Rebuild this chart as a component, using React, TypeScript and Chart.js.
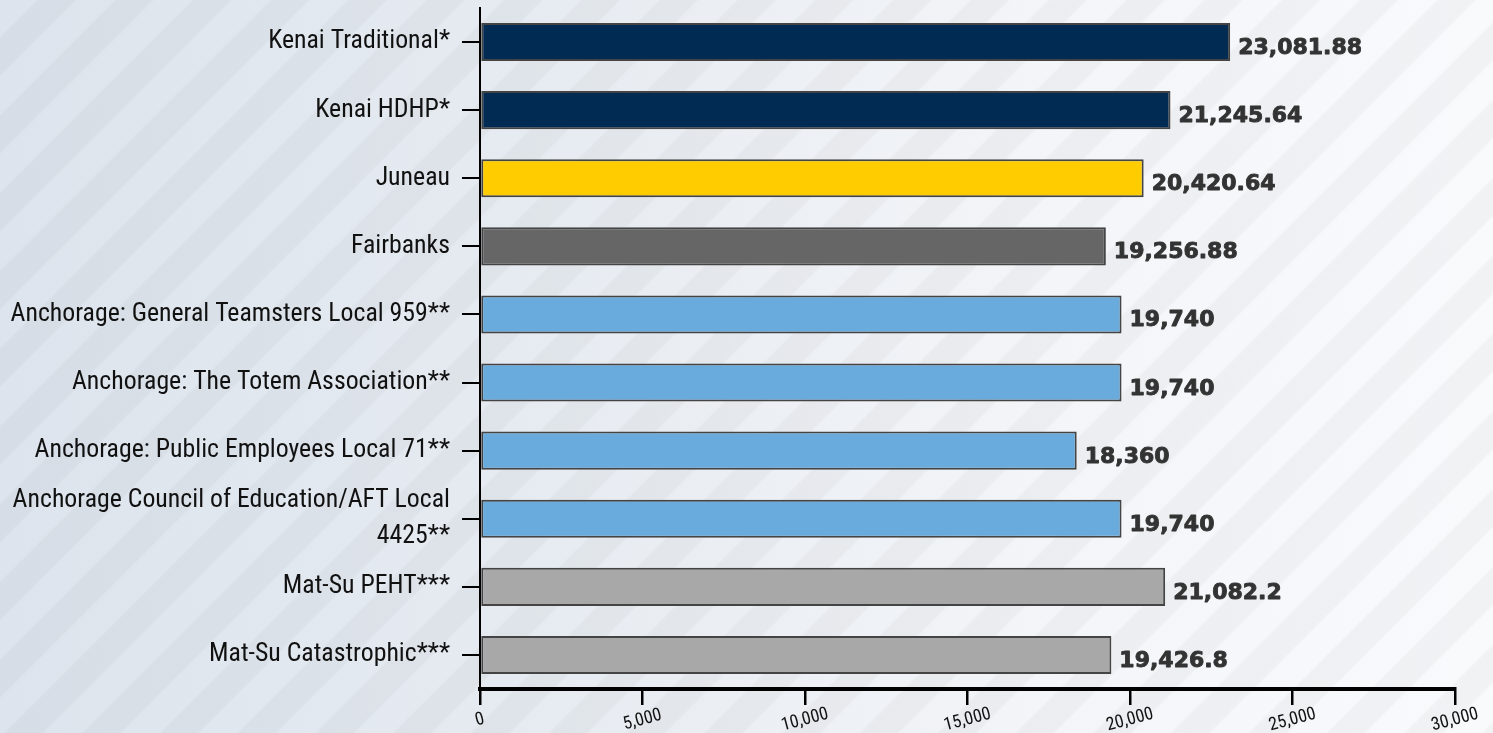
import React, { useEffect, useRef } from "react";
import { Chart, registerables } from "chart.js";

Chart.register(...registerables);

const categories: (string | string[])[] = [
  "Kenai Traditional*",
  "Kenai HDHP*",
  "Juneau",
  "Fairbanks",
  "Anchorage: General Teamsters Local 959**",
  "Anchorage: The Totem Association**",
  "Anchorage: Public Employees Local 71**",
  ["Anchorage Council of Education/AFT Local", "4425**"],
  "Mat-Su PEHT***",
  "Mat-Su Catastrophic***",
];

const values = [
  23081.88, 21245.64, 20420.64, 19256.88, 19740, 19740, 18360, 19740, 21082.2,
  19426.8,
];

const barColors = [
  "#012b53",
  "#012b53",
  "#ffcc00",
  "#666666",
  "#6aabdd",
  "#6aabdd",
  "#6aabdd",
  "#6aabdd",
  "#a8a8a8",
  "#a8a8a8",
];

const xMin = 0;
const xMax = 30000;
const xStep = 5000;

const LABEL_FONT =
  "'Roboto Condensed', 'Liberation Sans Narrow', 'DejaVu Sans Condensed', sans-serif";

const fmt = new Intl.NumberFormat("en-US", { maximumFractionDigits: 2 });

const valueLabelPlugin = {
  id: "valueLabels",
  afterDatasetsDraw(chart: any) {
    const ctx = chart.ctx;
    const meta = chart.getDatasetMeta(0);
    ctx.save();
    ctx.font = "bold 22px 'DejaVu Sans', sans-serif";
    ctx.fillStyle = "#333333";
    ctx.strokeStyle = "#333333";
    ctx.lineWidth = 0.9;
    ctx.lineJoin = "round";
    ctx.textAlign = "left";
    ctx.textBaseline = "alphabetic";
    meta.data.forEach((bar: any, i: number) => {
      const s = fmt.format(values[i]);
      ctx.fillText(s, bar.x + 8, bar.y + 12);
      ctx.strokeText(s, bar.x + 8, bar.y + 12);
    });
    ctx.restore();
  },
};

const xTickLabelPlugin = {
  id: "xTickLabels",
  afterDraw(chart: any) {
    const ctx = chart.ctx;
    const scale = chart.scales.x;
    ctx.save();
    ctx.font = `18px ${LABEL_FONT}`;
    ctx.fillStyle = "#111111";
    ctx.textAlign = "center";
    ctx.textBaseline = "middle";
    scale.ticks.forEach((t: any) => {
      const x = scale.getPixelForValue(t.value);
      ctx.save();
      ctx.translate(x, scale.bottom - 13);
      ctx.rotate((-15 * Math.PI) / 180);
      ctx.fillText(fmt.format(t.value), 0, 0);
      ctx.restore();
    });
    ctx.restore();
  },
};

export default function App() {
  const canvasRef = useRef<HTMLCanvasElement | null>(null);

  useEffect(() => {
    if (!canvasRef.current) return;
    const chart = new Chart(canvasRef.current, {
      type: "bar",
      data: {
        labels: categories as any,
        datasets: [
          {
            data: values,
            backgroundColor: barColors,
            borderColor: "#444444",
            borderWidth: 2,
            borderSkipped: false,
            barPercentage: 0.56,
            categoryPercentage: 1,
          },
        ],
      },
      plugins: [valueLabelPlugin, xTickLabelPlugin],
      options: {
        indexAxis: "y",
        animation: false,
        responsive: true,
        maintainAspectRatio: false,
        layout: { padding: { top: 8, right: 38, left: 0, bottom: 0 } },
        plugins: {
          legend: { display: false },
          tooltip: { enabled: false },
        },
        scales: {
          x: {
            type: "linear",
            min: xMin,
            max: xMax,
            ticks: { stepSize: xStep, display: false },
            grid: {
              drawOnChartArea: false,
              drawTicks: true,
              tickLength: 16,
              color: "#000000",
              lineWidth: 2.5,
            },
            border: { display: true, color: "#000000", width: 4 },
            afterFit(scale: any) {
              scale.height = 44;
              scale.paddingLeft = 0;
              scale.paddingRight = 0;
            },
          },
          y: {
            type: "category",
            ticks: {
              autoSkip: false,
              color: "#111111",
              padding: 12,
              font: { family: LABEL_FONT, size: 25.8, lineHeight: 1.4 },
            },
            grid: {
              offset: false,
              drawOnChartArea: false,
              drawTicks: true,
              tickLength: 18,
              color: "#000000",
              lineWidth: 2,
            },
            border: { display: true, color: "#000000", width: 2 },
            afterFit(scale: any) {
              scale.width = 480;
              scale.paddingTop = 0;
              scale.paddingBottom = 0;
            },
          },
        },
      },
    });
    return () => chart.destroy();
  }, []);

  return (
    <div
      style={{
        position: "fixed",
        left: 0,
        top: 0,
        width: "100vw",
        height: "100vh",
        background:
          "repeating-linear-gradient(135deg, rgba(0,0,0,0) 0px, rgba(0,0,0,0) 25px, rgba(0,0,0,0.03) 28px, rgba(0,0,0,0.03) 52px, rgba(0,0,0,0) 55px), linear-gradient(to right, #dde4ed 0%, #e6ebf1 35%, #f3f5f8 70%, #f9fafc 100%)",
      }}
    >
      <canvas ref={canvasRef} style={{ width: "100%", height: "100%" }} />
    </div>
  );
}
